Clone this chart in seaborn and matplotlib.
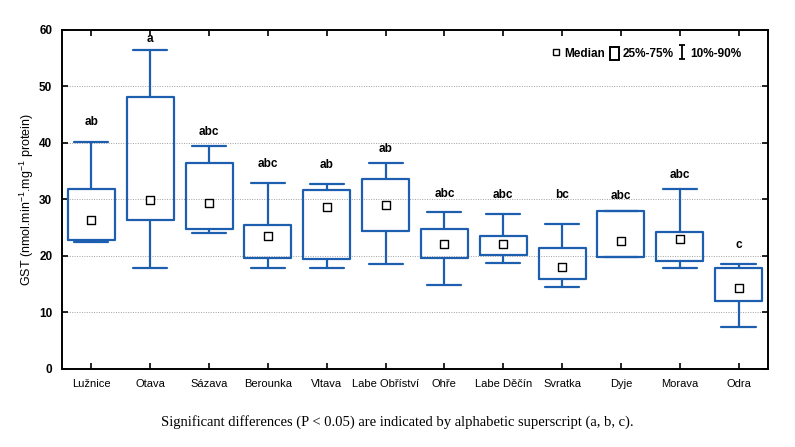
"""GST activity per river site: median, 25-75 % box and 10-90 % whiskers."""
import matplotlib

matplotlib.use("Agg")
import matplotlib.pyplot as plt  # noqa: E402
import pandas as pd  # noqa: E402
import seaborn as sns  # noqa: E402
from matplotlib.lines import Line2D  # noqa: E402
from matplotlib.patches import Rectangle  # noqa: E402
from matplotlib.path import Path  # noqa: E402

sites = ["Lužnice", "Otava", "Sázava", "Berounka", "Vltava", "Labe Obříství",
         "Ohře", "Labe Děčín", "Svratka", "Dyje", "Morava", "Odra"]
p10 = [22.5, 17.8, 24.1, 17.9, 17.8, 18.6, 14.8, 18.8, 14.5, 19.9, 17.9, 7.5]
q1 = [22.9, 26.3, 24.8, 19.7, 19.4, 24.5, 19.7, 20.2, 15.9, 19.9, 19.2, 12.1]
median = [26.4, 29.9, 29.3, 23.5, 28.7, 29.1, 22.2, 22.1, 18.1, 22.7, 23.0, 14.4]
q3 = [31.9, 48.2, 36.4, 25.5, 31.6, 33.7, 24.7, 23.5, 21.5, 28.0, 24.3, 17.8]
p90 = [40.2, 56.5, 39.5, 32.9, 32.7, 36.4, 27.7, 27.4, 25.6, 28.0, 31.9, 18.5]
letters = ["ab", "a", "abc", "abc", "ab", "ab", "abc", "abc", "bc", "abc", "abc", "c"]
letter_y = [43.7, 58.4, 42.0, 36.3, 36.1, 39.0, 30.9, 30.8, 30.8, 30.6, 34.3, 22.0]

BLUE = "#1d5fae"

df = pd.DataFrame({"site": sites, "median": median})

sns.set_style("white")
plt.rcParams["font.family"] = ["Liberation Sans", "DejaVu Sans"]
plt.rcParams["mathtext.fontset"] = "custom"
plt.rcParams["mathtext.rm"] = "Liberation Sans"
plt.rcParams["mathtext.it"] = "Liberation Sans:italic"
plt.rcParams["mathtext.bf"] = "Liberation Sans:bold"
for k in ("text.color", "axes.labelcolor", "xtick.color", "ytick.color"):
    plt.rcParams[k] = "black"

fig = plt.figure(figsize=(7.95, 4.47), dpi=100)
ax = fig.add_axes([0.078, 0.1745, 0.888, 0.7585])

stats = [dict(whislo=lo, q1=a, med=m, q3=b, whishi=hi, fliers=[])
         for lo, a, m, b, hi in zip(p10, q1, median, q3, p90)]
ax.bxp(stats, positions=range(len(sites)), widths=0.8, showcaps=True,
       manage_ticks=False,
       boxprops=dict(color=BLUE, lw=1.6),
       whiskerprops=dict(color=BLUE, lw=1.6),
       capprops=dict(color=BLUE, lw=1.6),
       medianprops=dict(lw=0))
# widen the caps to the reference look
for line in ax.lines:
    xs = line.get_xdata()
    if len(xs) == 2 and xs[0] != xs[1]:
        c = (xs[0] + xs[1]) / 2
        line.set_xdata([c - 0.29, c + 0.29])

sns.scatterplot(data=df, x="site", y="median", marker="s", s=30,
                facecolor="white", edgecolor="black", linewidth=1.0,
                zorder=5, ax=ax)

for i, (t, y) in enumerate(zip(letters, letter_y)):
    ax.text(i, y, t, ha="center", va="center", fontsize=8.5,
            fontweight="bold")

ax.set_xlim(-0.5, len(sites) - 0.5)
ax.set_ylim(0, 60)
ax.set_yticks(range(0, 61, 10))
ax.set_xticks(range(len(sites)))
ax.set_xticklabels(sites, fontsize=8)
for t in ax.get_yticklabels():
    t.set_fontsize(8.5)
    t.set_fontweight("bold")
ax.set_xlabel("")
ax.set_ylabel("GST (nmol.min$^{-1}$.mg$^{-1}$ protein)", fontsize=9,
              labelpad=2)
for y in range(10, 60, 10):
    ax.axhline(y, color="#a0a0a0", lw=0.7, ls=(0, (1, 1.5)), zorder=0)
for s in ax.spines.values():
    s.set_color("black")
    s.set_linewidth(1.4)
ax.tick_params(axis="both", direction="in", length=4, width=1.2,
               top=True, right=True, bottom=True, left=True)
ax.tick_params(axis="x", pad=7)
ax.tick_params(axis="y", pad=7)

ibeam = Path([(-0.5, 1), (0.5, 1), (0, 1), (0, -1), (-0.5, -1), (0.5, -1)],
             [Path.MOVETO, Path.LINETO, Path.MOVETO, Path.LINETO,
              Path.MOVETO, Path.LINETO])
handles = [
    Line2D([], [], ls="none", marker="s", ms=5, mfc="white", mec="black",
           mew=1.0),
    Rectangle((0, 0), 1, 1, facecolor="white", edgecolor="black", lw=1.4),
    Line2D([], [], ls="none", marker=ibeam, ms=10, mfc="none", mec="black",
           mew=1.3),
]
ax.legend(handles, ["Median", "25%-75%", "10%-90%"], ncol=3, frameon=False,
          loc="center right", bbox_to_anchor=(0.978, 0.93),
          handlelength=0.8, handleheight=1.3, handletextpad=0.3,
          columnspacing=0.35, prop=dict(size=8.5, weight="bold"))

fig.text(0.5, 0.055, "Significant differences (P < 0.05) are indicated by "
         "alphabetic superscript (a, b, c).", ha="center", va="center",
         fontsize=10.5, family=["Liberation Serif", "DejaVu Serif"])

fig.savefig("out.png", dpi=100)
plt.close(fig)
